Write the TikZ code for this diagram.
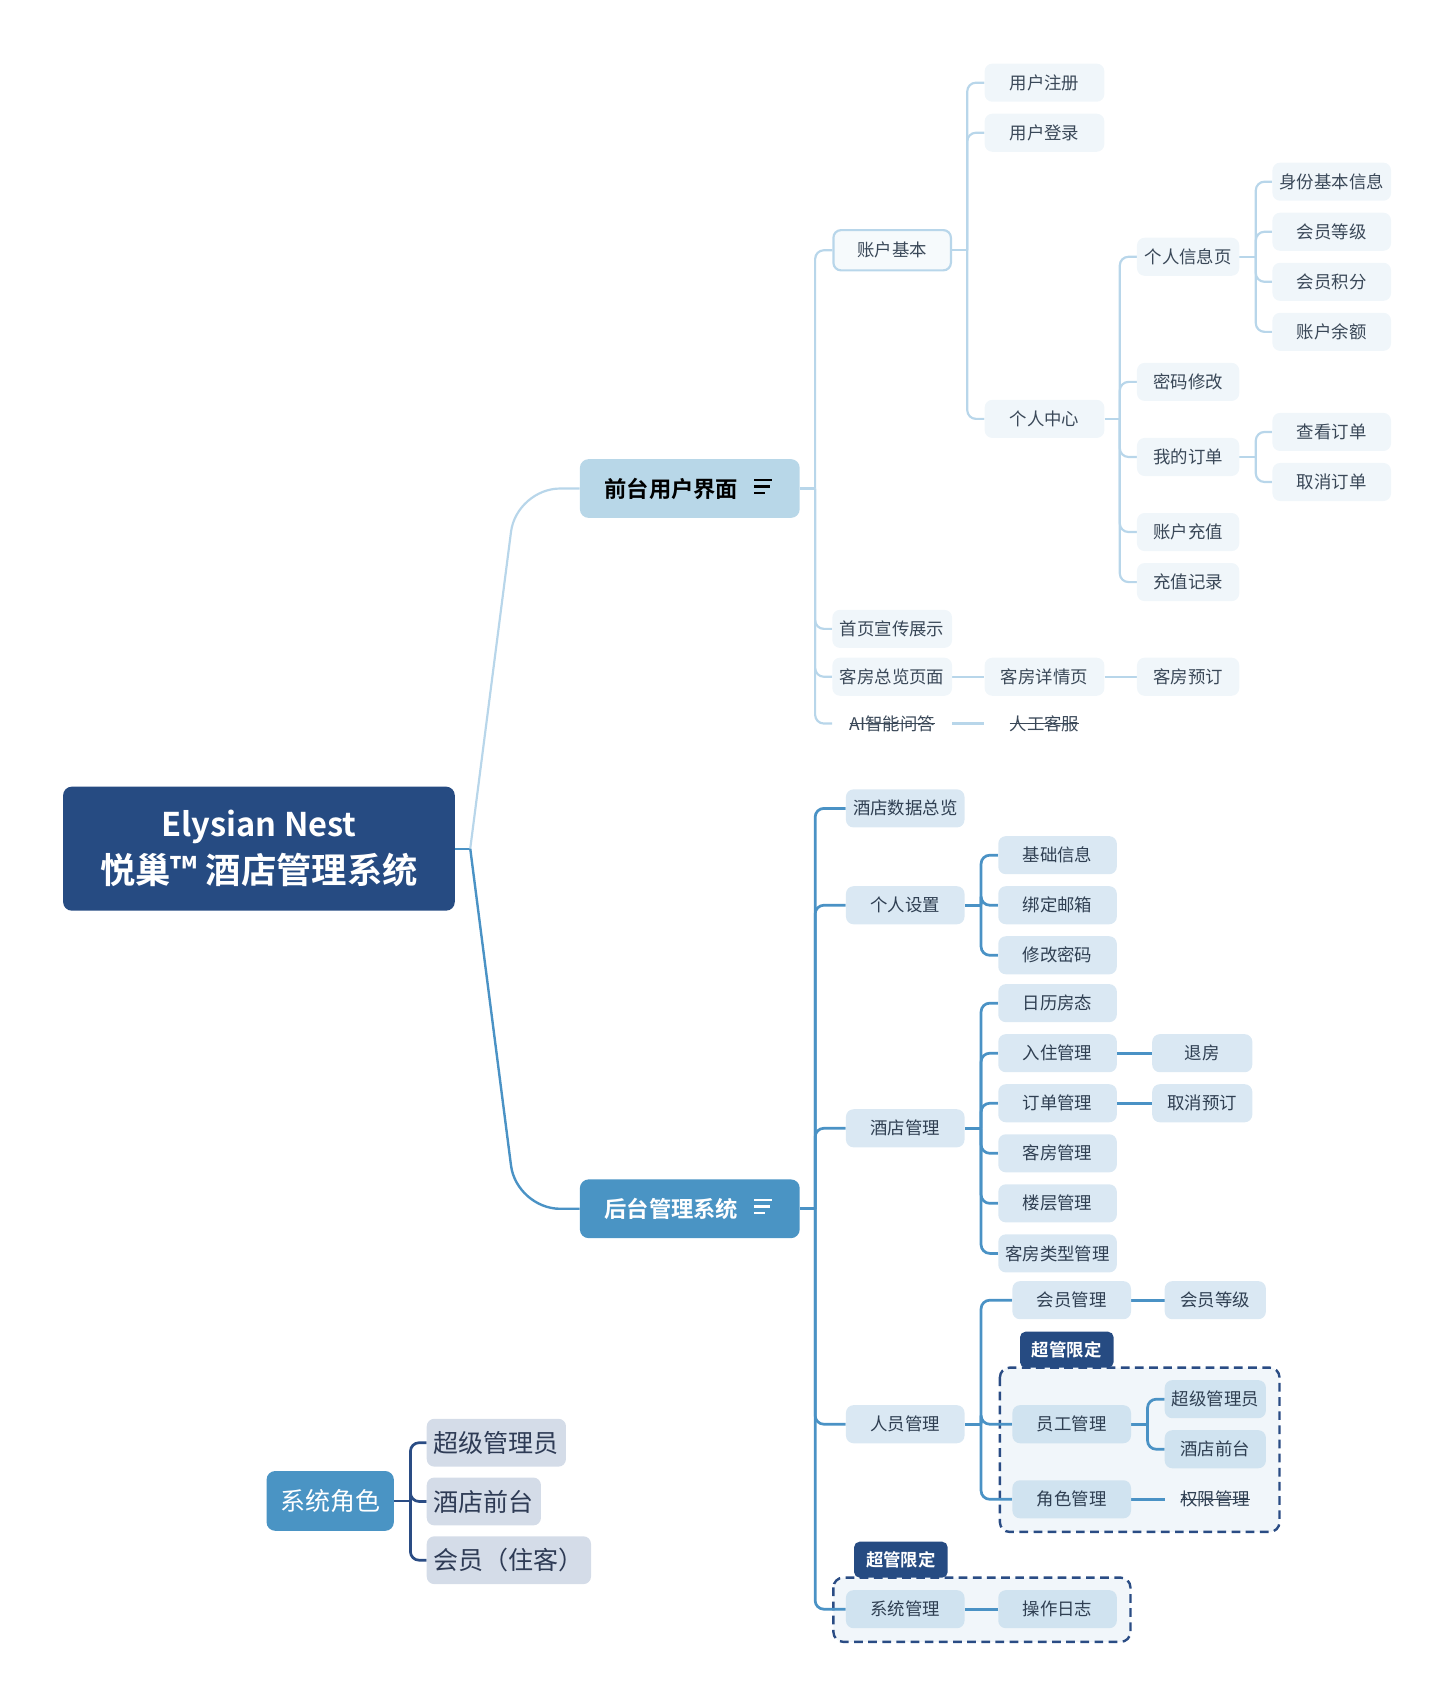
\documentclass[tikz,border=0pt]{standalone}
\usepackage{fontspec}
\setmainfont{Noto Sans CJK SC}[BoldFont={Noto Sans CJK SC Bold}]
\usetikzlibrary{calc}
\definecolor{cRoot}{HTML}{264B82}
\definecolor{cFe}{HTML}{B8D7E8}
\definecolor{cBe}{HTML}{4A94C4}
\definecolor{cFline}{HTML}{B8D6EA}
\definecolor{cBline}{HTML}{4A92C5}
\definecolor{cFfill}{HTML}{F0F6FA}
\definecolor{cBfill}{HTML}{DAE8F3}
\definecolor{cDfill}{HTML}{D0E3F0}
\definecolor{cNavy}{HTML}{2A4C84}
\definecolor{cBoxbg}{HTML}{F1F6FA}
\definecolor{cLeg}{HTML}{D4DCE8}
\definecolor{cFtxt}{HTML}{3A4858}
\definecolor{cBtxt}{HTML}{2F3F52}
\definecolor{cLegtxt}{HTML}{2E3B55}
\newlength\strklen
\newcommand\strk[1]{\settowidth\strklen{#1}\rlap{#1}\raisebox{0.36em}{\rule{\strklen}{0.9pt}}}
\pgfdeclarelayer{bgzero}
\pgfdeclarelayer{bgone}
\pgfsetlayers{bgzero,bgone,main}
\tikzset{
  rootbox/.style={fill=cRoot, text=white, rounded corners=8pt, minimum width=360pt, minimum height=114pt, align=center, inner sep=0pt, font=\bfseries\fontsize{30}{43}\selectfont},
  mainbox/.style={rounded corners=8pt, minimum width=202pt, minimum height=54pt, inner sep=0pt, font=\bfseries\fontsize{20.5}{24}\selectfont},
  fn/.style={rounded corners=7pt, fill=cFfill, text=cFtxt, font=\fontsize{16}{19}\selectfont, minimum height=35pt, minimum width=110pt, inner sep=0pt},
  fnb/.style={fn, draw=cFline, line width=2pt, fill=cFfill!60!white, minimum height=37pt, minimum width=108pt},
  fplain/.style={fn, fill=none},
  bn/.style={rounded corners=7pt, fill=cBfill, text=cBtxt, font=\fontsize{16}{19}\selectfont, minimum height=35pt, minimum width=109pt, inner sep=0pt},
  bnd/.style={bn, fill=cDfill},
  bplain/.style={bn, fill=none},
  fconn/.style={draw=cFline, line width=2pt, rounded corners=8pt},
  bconn/.style={draw=cBline, line width=2.5pt, rounded corners=8pt},
  lconn/.style={draw=cNavy, line width=2.5pt, rounded corners=8pt},
  dbox/.style={draw=cNavy, fill=cBoxbg, line width=2.2pt, dash pattern=on 8pt off 5pt, rounded corners=9pt},
  tagbox/.style={fill=cRoot, text=white, rounded corners=5pt, minimum width=86pt, minimum height=33pt, inner sep=0pt, font=\bfseries\fontsize{16}{19}\selectfont},
  legmain/.style={fill=cBe, text=white, rounded corners=8pt, minimum width=117pt, minimum height=55pt, inner sep=0pt, font=\fontsize{23}{27}\selectfont},
  legn/.style={fill=cLeg, text=cLegtxt, rounded corners=7pt, minimum height=44pt, inner xsep=6.5pt, inner ysep=0pt, font=\fontsize{23}{27}\selectfont},
  iconline/.style={line width=2.4pt}
}
\begin{document}
\begin{tikzpicture}[x=1pt,y=-1pt]
\useasboundingbox (0,0) rectangle (1337,1568);

% ---------- root and main branches
\node[rootbox] (root) at (238,780) {Elysian Nest\\{\fontsize{32.5}{43}\selectfont 悦巢™ 酒店管理系统}};
\node[mainbox, fill=cFe, text=black] (fe) at (634,449) {前台用户界面\hspace*{34pt}};
\node[mainbox, fill=cBe, text=white] (be) at (634,1111) {后台管理系统\hspace*{34pt}};
\draw[iconline, black] ($(fe.center)+(59,-8)$) -- ++(17,0) ($(fe.center)+(59,-2)$) -- ++(15,0) ($(fe.center)+(59,4)$) -- ++(10,0);
\draw[iconline, white] ($(be.center)+(59,-8)$) -- ++(17,0) ($(be.center)+(59,-2)$) -- ++(15,0) ($(be.center)+(59,4)$) -- ++(10,0);

% ---------- front-end nodes
\node[fnb] (zhjb) at (820,230) {账户基本};
\node[fn] (sy) at (820,578) {首页宣传展示};
\node[fn] (kf) at (820,622) {客房总览页面};
\node[fplain] (ai) at (820,665) {\strk{AI智能问答}};
\node[fn] (zc) at (960,76) {用户注册};
\node[fn] (dl) at (960,122) {用户登录};
\node[fn] (grzx) at (960,385) {个人中心};
\node[fn, minimum width=94pt] (xxy) at (1092,236) {个人信息页};
\node[fn, minimum width=94pt] (mm) at (1092,351) {密码修改};
\node[fn, minimum width=94pt] (dd) at (1092,420) {我的订单};
\node[fn, minimum width=94pt] (cz) at (1092,489) {账户充值};
\node[fn, minimum width=94pt] (jl) at (1092,535) {充值记录};
\node[fn, minimum width=109pt] (sf) at (1224,167) {身份基本信息};
\node[fn, minimum width=109pt] (hy) at (1224,213) {会员等级};
\node[fn, minimum width=109pt] (jf) at (1224,259) {会员积分};
\node[fn, minimum width=109pt] (ye) at (1224,305) {账户余额};
\node[fn, minimum width=109pt] (ck) at (1224,397) {查看订单};
\node[fn, minimum width=109pt] (qx) at (1224,443) {取消订单};
\node[fn] (xq) at (960,622) {客房详情页};
\node[fn, minimum width=94pt] (yd) at (1092,622) {客房预订};
\node[fplain] (rg) at (960,665) {\strk{人工客服}};

% ---------- back-end nodes
\node[bn] (sjzl) at (832,743) {酒店数据总览};
\node[bn] (grsz) at (832,832) {个人设置};
\node[bn] (jdgl) at (832,1037) {酒店管理};
\node[bn] (rygl) at (832,1309) {人员管理};
\node[bnd] (xtgl) at (832,1479) {系统管理};
\node[bn] (jcxx) at (972,786) {基础信息};
\node[bn] (yx) at (972,832) {绑定邮箱};
\node[bn] (xgmm) at (972,878) {修改密码};
\node[bn] (rlft) at (972,922) {日历房态};
\node[bn] (rzgl) at (972,968) {入住管理};
\node[bn] (ddgl) at (972,1014) {订单管理};
\node[bn] (kfgl) at (972,1060) {客房管理};
\node[bn] (lcgl) at (972,1106) {楼层管理};
\node[bn] (lxgl) at (972,1152) {客房类型管理};
\node[bn, minimum width=92pt] (tf) at (1105,968) {退房};
\node[bn, minimum width=92pt] (qxyd) at (1105,1014) {取消预订};
\node[bn] (hygl) at (985,1195) {会员管理};
\node[bn, minimum width=93pt] (hydj) at (1117,1195) {会员等级};
\node[bnd] (yggl) at (985,1309) {员工管理};
\node[bnd, minimum width=93pt] (cjgly) at (1117,1286) {超级管理员};
\node[bnd, minimum width=93pt] (jdqt) at (1117,1332) {酒店前台};
\node[bnd] (jsgl) at (985,1378) {角色管理};
\node[bplain, minimum width=93pt] (qxgl) at (1117,1378) {\strk{权限管理}};
\node[bnd] (czrz) at (972,1479) {操作日志};

% ---------- restricted areas
\begin{pgfonlayer}{bgzero}
\draw[dbox] (919,1257) rectangle (1176,1408);
\draw[dbox] (766,1450) rectangle (1039,1509);
\end{pgfonlayer}
\node[tagbox] (tag1) at (980.5,1240.5) {超管限定};
\node[tagbox] (tag2) at (828,1433.5) {超管限定};

% ---------- legend
\node[legmain] (js) at (303.5,1379.5) {系统角色};
\node[legn, anchor=west] (l1) at (392,1326) {超级管理员};
\node[legn, anchor=west] (l2) at (392,1380) {酒店前台};
\node[legn, anchor=west] (l3) at (392,1434) {会员（住客）};

% ---------- connectors
\begin{pgfonlayer}{bgone}
\coordinate (jr) at ($(root.east)+(14,0)$);
\draw[draw=cBline, line width=2pt] (root.east) -- (jr);
\draw[draw=cFline, line width=2pt, rounded corners=40pt] (jr) -- ($(fe.west)+(-58,0)$) -- (fe.west);
\draw[draw=cBline, line width=2.2pt, rounded corners=40pt] (jr) -- ($(be.west)+(-58,0)$) -- (be.west);

\coordinate (jfe) at ($(fe.east)+(14,0)$);
\draw[fconn] (fe.east) -- (jfe);
\foreach \c in {zhjb,sy,kf,ai} \draw[fconn] (jfe) |- (\c.west);
\coordinate (jzh) at ($(zhjb.east)+(14,0)$);
\draw[fconn] (zhjb.east) -- (jzh);
\foreach \c in {zc,dl,grzx} \draw[fconn] (jzh) |- (\c.west);
\coordinate (jgr) at ($(grzx.east)+(14,0)$);
\draw[fconn] (grzx.east) -- (jgr);
\foreach \c in {xxy,mm,dd,cz,jl} \draw[fconn] (jgr) |- (\c.west);
\coordinate (jxx) at ($(xxy.east)+(15,0)$);
\draw[fconn] (xxy.east) -- (jxx);
\foreach \c in {sf,hy,jf,ye} \draw[fconn] (jxx) |- (\c.west);
\coordinate (jdd) at ($(dd.east)+(15,0)$);
\draw[fconn] (dd.east) -- (jdd);
\foreach \c in {ck,qx} \draw[fconn] (jdd) |- (\c.west);
\draw[fconn] (kf.east) -- (xq.west);
\draw[fconn] (xq.east) -- (yd.west);
\draw[fconn] (ai.east) -- (rg.west);

\coordinate (jbe) at ($(be.east)+(14,0)$);
\draw[bconn] (be.east) -- (jbe);
\foreach \c in {sjzl,grsz,jdgl,rygl,xtgl} \draw[bconn] (jbe) |- (\c.west);
\coordinate (jgs) at ($(grsz.east)+(15,0)$);
\draw[bconn] (grsz.east) -- (jgs);
\foreach \c in {jcxx,yx,xgmm} \draw[bconn] (jgs) |- (\c.west);
\coordinate (jjd) at ($(jdgl.east)+(15,0)$);
\draw[bconn] (jdgl.east) -- (jjd);
\foreach \c in {rlft,rzgl,ddgl,kfgl,lcgl,lxgl} \draw[bconn] (jjd) |- (\c.west);
\draw[bconn] (rzgl.east) -- (tf.west);
\draw[bconn] (ddgl.east) -- (qxyd.west);
\coordinate (jry) at ($(rygl.east)+(15,0)$);
\draw[bconn] (rygl.east) -- (jry);
\foreach \c in {hygl,yggl,jsgl} \draw[bconn] (jry) |- (\c.west);
\draw[bconn] (hygl.east) -- (hydj.west);
\coordinate (jyg) at ($(yggl.east)+(15,0)$);
\draw[bconn] (yggl.east) -- (jyg);
\foreach \c in {cjgly,jdqt} \draw[bconn] (jyg) |- (\c.west);
\draw[bconn] (jsgl.east) -- (qxgl.west);
\draw[bconn] (xtgl.east) -- (czrz.west);

\coordinate (jjs) at ($(js.east)+(15,0)$);
\draw[lconn] (js.east) -- (jjs);
\foreach \c in {l1,l2,l3} \draw[lconn] (jjs) |- (\c.west);
\end{pgfonlayer}
\end{tikzpicture}
\end{document}
